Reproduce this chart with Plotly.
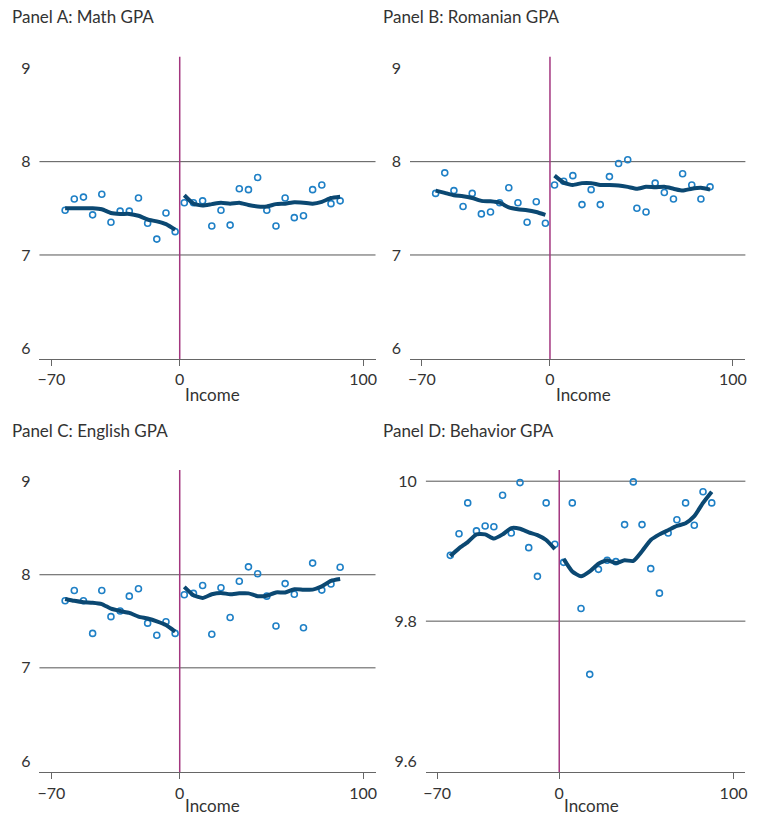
import plotly.graph_objects as go

# Bin midpoints (income relative to threshold)
x_left = [-62.5, -57.5, -52.5, -47.5, -42.5, -37.5, -32.5, -27.5, -22.5, -17.5, -12.5, -7.5, -2.5]
x_right = [2.5, 7.5, 12.5, 17.5, 22.5, 27.5, 32.5, 37.5, 42.5, 47.5, 52.5, 57.5,
           62.5, 67.5, 72.5, 77.5, 82.5, 87.5]

# Panel A: Math GPA
math_pts_left = [7.48, 7.60, 7.62, 7.43, 7.65, 7.35, 7.47, 7.47, 7.61, 7.34, 7.17, 7.45, 7.25]
math_pts_right = [7.56, 7.56, 7.58, 7.31, 7.48, 7.32, 7.71, 7.70, 7.83, 7.48, 7.31, 7.61,
                  7.40, 7.42, 7.70, 7.75, 7.55, 7.58]
math_fit_left = [7.50, 7.50, 7.50, 7.50, 7.49, 7.45, 7.44, 7.44, 7.42, 7.38, 7.36, 7.33, 7.27]
math_fit_right = [7.64, 7.55, 7.53, 7.545, 7.56, 7.55, 7.56, 7.535, 7.52, 7.52, 7.545, 7.55,
                  7.565, 7.56, 7.55, 7.57, 7.61, 7.625]

# Panel B: Romanian GPA
rom_pts_left = [7.66, 7.88, 7.69, 7.52, 7.66, 7.44, 7.46, 7.56, 7.72, 7.56, 7.35, 7.57, 7.34]
rom_pts_right = [7.75, 7.79, 7.85, 7.54, 7.70, 7.54, 7.84, 7.98, 8.02, 7.50, 7.46, 7.77,
                 7.67, 7.60, 7.87, 7.75, 7.60, 7.73]
rom_fit_left = [7.69, 7.665, 7.64, 7.63, 7.61, 7.58, 7.575, 7.56, 7.51, 7.49, 7.48, 7.46, 7.43]
rom_fit_right = [7.85, 7.775, 7.75, 7.77, 7.77, 7.75, 7.75, 7.745, 7.73, 7.71, 7.73, 7.725,
                 7.73, 7.71, 7.69, 7.71, 7.72, 7.70]

# Panel C: English GPA
eng_pts_left = [7.72, 7.83, 7.72, 7.37, 7.83, 7.55, 7.61, 7.77, 7.85, 7.48, 7.35, 7.495, 7.37]
eng_pts_right = [7.785, 7.80, 7.885, 7.36, 7.86, 7.54, 7.93, 8.085, 8.01, 7.77, 7.45, 7.905,
                 7.79, 7.43, 8.125, 7.835, 7.90, 8.08]
eng_fit_left = [7.74, 7.72, 7.705, 7.70, 7.685, 7.635, 7.61, 7.59, 7.55, 7.53, 7.50, 7.46, 7.39]
eng_fit_right = [7.87, 7.78, 7.75, 7.79, 7.805, 7.79, 7.80, 7.80, 7.77, 7.775, 7.81, 7.81,
                 7.845, 7.84, 7.84, 7.875, 7.935, 7.955]

# Panel D: Behavior GPA
beh_pts_left = [9.894, 9.925, 9.969, 9.929, 9.936, 9.935, 9.980, 9.926, 9.998, 9.905, 9.864,
                9.969, 9.910]
beh_pts_right = [9.884, 9.969, 9.818, 9.724, 9.874, 9.887, 9.885, 9.938, 9.999, 9.938, 9.875,
                 9.840, 9.926, 9.945, 9.969, 9.937, 9.985, 9.969]
beh_fit_left = [9.893, 9.904, 9.913, 9.924, 9.924, 9.918, 9.924, 9.933, 9.932, 9.927, 9.923,
                9.916, 9.903]
beh_fit_right = [9.889, 9.871, 9.864, 9.871, 9.882, 9.887, 9.883, 9.887, 9.886, 9.900, 9.916,
                 9.924, 9.930, 9.936, 9.940, 9.950, 9.969, 9.985]

panel_titles = ["Panel A: Math GPA", "Panel B: Romanian GPA",
                "Panel C: English GPA", "Panel D: Behavior GPA"]
x_title = "Income"
x_ticks = [-70, 0, 100]
y_ticks_abc = [6, 7, 8, 9]
y_ticks_d = [9.6, 9.8, 10]
grid_abc = [7, 8]
grid_d = [9.8, 10]

W, H = 759, 814
FONT = "Source Sans Pro, Lato, sans-serif"
TXT = "#333333"
PT_COL = "#1f80c6"
LINE_COL = "#0b4872"
VLINE_COL = "#a3367f"
GRID_COL = "#555555"

panels = [
    dict(pl=math_pts_left, pr=math_pts_right, fl=math_fit_left, fr=math_fit_right,
         xd=[36.7, 375], yd=[56.7, 359], yr=[5.885, 9.125], yt=y_ticks_abc, gr=grid_abc,
         tx=7.5, ty=17, ix=211, iy=394),
    dict(pl=rom_pts_left, pr=rom_pts_right, fl=rom_fit_left, fr=rom_fit_right,
         xd=[409.7, 747.3], yd=[56.7, 359], yr=[5.885, 9.125], yt=y_ticks_abc, gr=grid_abc,
         tx=380.5, ty=17, ix=584, iy=394),
    dict(pl=eng_pts_left, pr=eng_pts_right, fl=eng_fit_left, fr=eng_fit_right,
         xd=[36.7, 375], yd=[470, 772.3], yr=[5.878, 9.125], yt=y_ticks_abc, gr=grid_abc,
         tx=7.5, ty=430, ix=211, iy=805),
    dict(pl=beh_pts_left, pr=beh_pts_right, fl=beh_fit_left, fr=beh_fit_right,
         xd=[425.7, 747.3], yd=[470, 772.3], yr=[9.584, 10.016], yt=y_ticks_d, gr=grid_d,
         tx=380.5, ty=430, ix=592, iy=805),
]

fig = go.Figure()
shapes = []
annotations = []
for i, p in enumerate(panels):
    n = i + 1
    xa = "x" if n == 1 else f"x{n}"
    ya = "y" if n == 1 else f"y{n}"
    xkey = "xaxis" if n == 1 else f"xaxis{n}"
    ykey = "yaxis" if n == 1 else f"yaxis{n}"

    for xs, ys in ((x_left, p["pl"]), (x_right, p["pr"])):
        fig.add_trace(go.Scatter(x=xs, y=ys, mode="markers", xaxis=xa, yaxis=ya,
                                 marker=dict(symbol="circle-open", size=6, color=PT_COL,
                                             line=dict(width=1.6, color=PT_COL)),
                                 showlegend=False, hoverinfo="x+y"))
    for xs, ys in ((x_left, p["fl"]), (x_right, p["fr"])):
        fig.add_trace(go.Scatter(x=xs, y=ys, mode="lines", xaxis=xa, yaxis=ya,
                                 line=dict(color=LINE_COL, width=4, shape="spline",
                                           smoothing=0.5),
                                 showlegend=False, hoverinfo="x+y"))

    fig.layout[xkey] = dict(
        domain=[p["xd"][0] / W, p["xd"][1] / W], anchor=ya,
        range=[-76.5, 106.8], tickvals=x_ticks, showgrid=False, zeroline=False,
        showline=True, linecolor="#666666", linewidth=1,
        ticks="outside", ticklen=6, tickcolor="#666666",
        tickfont=dict(family=FONT, size=16, color=TXT),
    )
    fig.layout[ykey] = dict(
        domain=[1 - p["yd"][1] / H, 1 - p["yd"][0] / H], anchor=xa,
        range=p["yr"], tickvals=p["yt"], showgrid=False, zeroline=False,
        showline=False, ticks="", ticklabelstandoff=8,
        tickfont=dict(family=FONT, size=16, color=TXT),
    )

    for g in p["gr"]:
        shapes.append(dict(type="line", xref=f"{xa} domain", yref=ya, x0=0, x1=1, y0=g, y1=g,
                           line=dict(color=GRID_COL, width=1), layer="below"))
    shapes.append(dict(type="line", xref=xa, yref=f"{ya} domain", x0=0, x1=0, y0=0, y1=1,
                       line=dict(color=VLINE_COL, width=1.5), layer="below"))
    annotations.append(dict(text=panel_titles[i], xref="paper", yref="paper",
                            x=p["tx"] / W, y=1 - p["ty"] / H, xanchor="left", yanchor="middle",
                            showarrow=False, font=dict(family=FONT, size=17, color=TXT)))
    annotations.append(dict(text=x_title, xref="paper", yref="paper",
                            x=p["ix"] / W, y=1 - p["iy"] / H, xanchor="center", yanchor="middle",
                            showarrow=False, font=dict(family=FONT, size=17, color=TXT)))

fig.update_layout(
    width=W, height=H, margin=dict(l=0, r=0, t=0, b=0),
    paper_bgcolor="white", plot_bgcolor="white",
    shapes=shapes, annotations=annotations,
)

fig.write_html("out.html",
               config={"displayModeBar": False},
               post_script="document.body.style.margin='0px';"
                           "document.body.style.overflow='hidden';")
